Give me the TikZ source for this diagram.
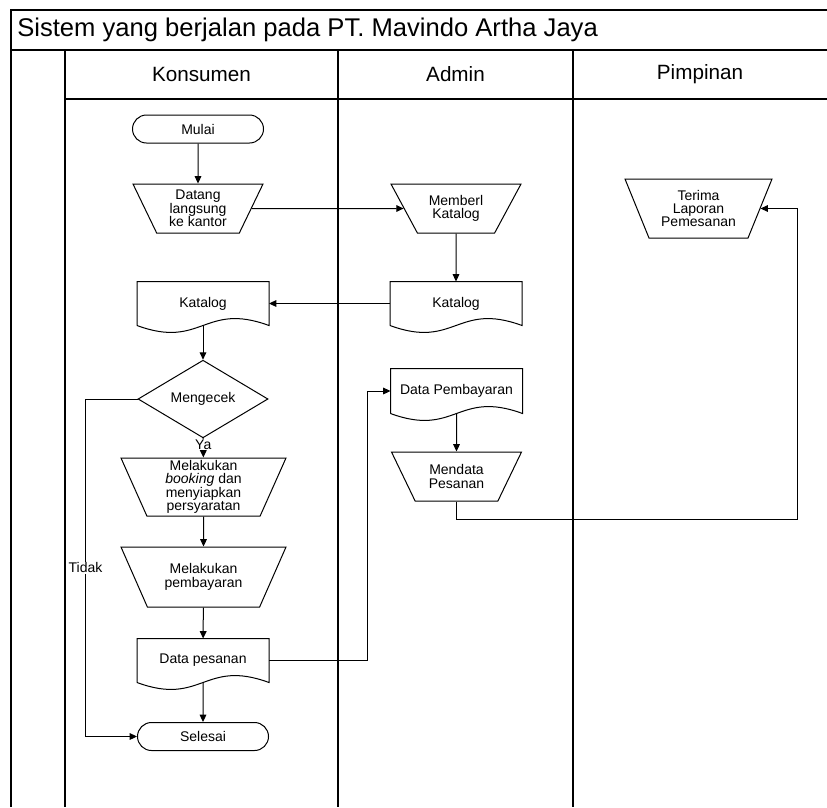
\documentclass[tikz,border=0pt]{standalone}
\usepackage{fontspec}
\setmainfont{Liberation Sans}
\usetikzlibrary{shapes.geometric,shapes.misc,arrows.meta}
\newlength\px
\setlength\px{0.75pt}
\tikzset{
  base/.style={draw, line width=0.75pt, inner sep=0pt, align=center,
    font=\fontsize{10.5}{10}\selectfont},
  terminal/.style={base, rounded rectangle, minimum width=131\px, minimum height=28\px},
  manual/.style={base, trapezium, shape border rotate=180, trapezium stretches body,
    trapezium left angle=#1, trapezium right angle=#1, minimum width=130\px},
  doc/.style={base, draw=none, rectangle, minimum width=131\px, minimum height=43\px},
  decision/.style={base, diamond, minimum width=130\px, minimum height=58\px},
  flow/.style={-{Triangle[length=5.5pt,width=5pt]}, line width=0.75pt},
  lane/.style={line width=1pt},
  lbl/.style={fill=white, inner sep=0.5pt, font=\fontsize{10.5}{10}\selectfont},
}
\begin{document}
\begin{tikzpicture}[x=1\px, y=-1\px]
  \fill[white] (0,0) rectangle (827,807);
  \useasboundingbox (0,0) rectangle (827,807);
  % swimlanes
  \draw[lane] (11,807) -- (11,10) -- (827,10);
  \draw[lane] (11,50) -- (827,50);
  \draw[lane] (65,99) -- (827,99);
  \foreach \x in {65,338,573} \draw[lane] (\x,50) -- (\x,807);
  \node[anchor=west, inner sep=0pt, font=\fontsize{19.2}{22}\selectfont] (judul) at (17,30)
    {Sistem yang berjalan pada PT. Mavindo Artha Jaya};
  \node[font=\fontsize{15.5}{18}\selectfont] (konsumen) at (201.5,74) {Konsumen};
  \node[font=\fontsize{15.5}{18}\selectfont] (admin) at (455.5,74) {Admin};
  \node[font=\fontsize{15.5}{18}\selectfont] (pimpinan) at (700,74) {Pimpinan};
  % Konsumen
  \node[terminal] (mulai) at (198,129) {Mulai};
  \node[manual=57, minimum height=49\px] (datang) at (198,208.5) {Datang\\langsung\\ke kantor};
  \node[doc] (katalogK) at (203,303.5) {Katalog};
  \node[decision] (cek) at (203,399) {Mengecek};
  \node[manual=64, minimum width=165\px, minimum height=58\px] (booking) at (203.5,487)
    {Melakukan\\\textit{booking} dan\\menyiapkan\\persyaratan};
  \node[manual=45, minimum width=165\px, minimum height=60\px] (bayar) at (203.5,577)
    {Melakukan\\pembayaran};
  \node[doc] (datapes) at (203,660.5) {Data pesanan};
  \node[terminal] (selesai) at (203,736.5) {Selesai};
  % Admin
  \node[manual=45, minimum height=49\px] (memberl) at (456,208.5) {Memberl\\Katalog};
  \node[doc] (katalogA) at (456,303.5) {Katalog};
  \node[doc, minimum height=44\px] (databayar) at (456.5,391) {Data Pembayaran};
  \node[manual=45, minimum height=49\px] (mendata) at (456.5,476.5) {Mendata\\Pesanan};
  % Pimpinan
  \node[manual=57, minimum width=147\px, minimum height=59\px] (terima) at (698.5,208.5)
    {Terima\\Laporan\\Pemesanan};
  % document outlines
  \foreach \d in {katalogK,katalogA,databayar,datapes}
    \draw[line width=0.75pt] (\d.south west) -- (\d.north west) -- (\d.north east)
      -- (\d.south east) .. controls +(-65,-24) and +(65,24) .. (\d.south west);
  % arus
  \draw[flow] (mulai) -- (datang);
  \draw[flow] (datang) -- (memberl);
  \draw[flow] (memberl) -- (katalogA);
  \draw[flow] (katalogA) -- (katalogK);
  \draw[flow] (katalogK.south) -- (cek);
  \draw[flow] (cek) -- node[lbl, pos=0.34] {Ya} (booking);
  \draw[flow] (cek.west) -- ++(-52,0) |- node[lbl, pos=0.25] {Tidak} (selesai);
  \draw[flow] (booking) -- (bayar);
  \draw[flow] (bayar) -- (datapes);
  \draw[flow] (datapes.south) -- (selesai);
  \draw[flow] (datapes.east) -- ++(98,0) |- (databayar);
  \draw[flow] (databayar.south) -- (mendata);
  \draw[flow] (mendata.south) -- ++(0,18) -- ++(341,0) |- (terima);
\end{tikzpicture}
\end{document}
